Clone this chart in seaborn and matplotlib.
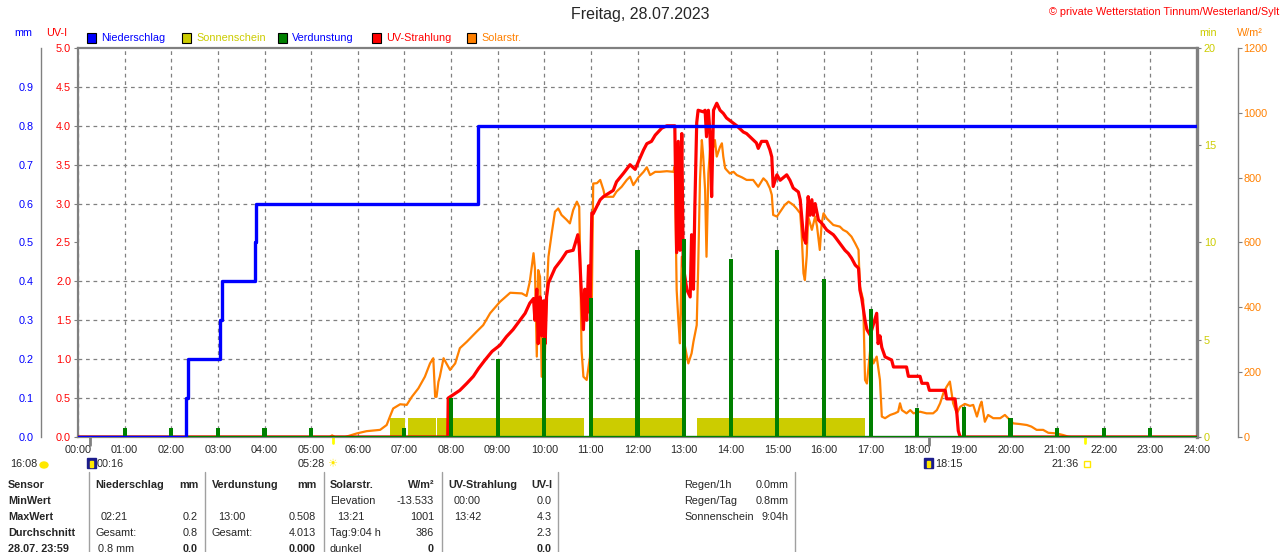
import numpy as np
import pandas as pd
import matplotlib
matplotlib.use("Agg")
import matplotlib.pyplot as plt
import matplotlib.patches as mpatches
from matplotlib.lines import Line2D
import seaborn as sns

# ---------------- data ----------------
hours = list(range(25))
hour_labels = [f"{h:02d}:00" for h in hours]

# Niederschlag, cumulative mm
rain_time = [0, 2.32, 2.35, 3.05, 3.08, 3.79, 3.82, 8.58, 24]
rain_mm = [0, 0.1, 0.2, 0.3, 0.4, 0.5, 0.6, 0.8, 0.8]

# Verdunstung per hour, mm
evap_hour = list(range(24))
evap_mm = [0, 0.024, 0.024, 0.024, 0.024, 0.024, 0, 0.024, 0.10, 0.20, 0.254, 0.357,
           0.481, 0.508, 0.458, 0.481, 0.407, 0.33, 0.075, 0.078, 0.05, 0.024, 0.024, 0.024]

# Sonnenschein intervals (hours), value in min
sun_start = [6.69, 7.08, 7.71, 11.04, 13.28]
sun_end = [7.01, 7.68, 10.85, 12.95, 16.88]
sun_min = [1, 1, 1, 1, 1]

# UV-Strahlung, UV-I
uv_time = [0, 7.93, 7.94, 8.19, 8.34, 8.48, 8.59, 8.73, 8.88, 9.05, 9.19, 9.33, 9.48, 9.59,
           9.69, 9.77, 9.80, 9.84, 9.87, 9.91, 9.945, 9.98, 10.02, 10.05, 10.09, 10.23,
           10.37, 10.48, 10.62, 10.72, 10.75, 10.77, 10.80, 10.84, 10.87, 10.91, 10.95,
           10.98, 11.02, 11.05, 11.20, 11.27, 11.48, 11.55, 11.70, 11.84, 11.95, 12.02,
           12.13, 12.20, 12.30, 12.38, 12.52, 12.63, 12.80, 12.84, 12.875, 12.91, 12.95,
           12.98, 13.06, 13.13, 13.16, 13.20, 13.23, 13.27, 13.30, 13.41, 13.45, 13.48,
           13.52, 13.555, 13.59, 13.63, 13.70, 13.77, 13.84, 13.91, 14.02, 14.13, 14.27,
           14.34, 14.48, 14.55, 14.59, 14.66, 14.77, 14.84, 14.88, 14.91, 14.99, 15.06,
           15.20, 15.27, 15.34, 15.45, 15.49, 15.56, 15.61, 15.66, 15.70, 15.74, 15.77,
           15.81, 15.88, 15.95, 16.06, 16.20, 16.24, 16.34, 16.45, 16.52, 16.59, 16.67,
           16.74, 16.77, 16.81, 16.88, 16.92, 16.99, 17.06, 17.13, 17.16, 17.20, 17.24,
           17.31, 17.45, 17.49, 17.77, 17.81, 18.06, 18.10, 18.22, 18.26, 18.60, 18.63,
           18.81, 18.85, 18.88, 18.92, 24]
uv_index = [0, 0, 0.5, 0.6, 0.69, 0.78, 0.88, 0.99, 1.1, 1.18, 1.29, 1.38, 1.5, 1.59,
            1.72, 1.78, 1.5, 1.9, 1.2, 1.8, 1.3, 1.75, 1.2, 1.8, 1.98, 2.17,
            2.28, 2.38, 2.4, 2.6, 2.45, 2.19, 1.8, 1.38, 1.9, 1.5, 2.2,
            1.6, 2.88, 2.87, 3.05, 3.09, 3.17, 3.28, 3.39, 3.5, 3.44, 3.54,
            3.69, 3.77, 3.8, 3.88, 3.97, 4.0, 4.0, 2.37, 3.8, 2.4, 3.9,
            2.2, 1.89, 1.8, 2.6, 1.9, 2.96, 4.04, 4.2, 4.18, 4.2, 3.86,
            4.2, 3.9, 3.09, 4.2, 4.29, 4.2, 4.16, 4.1, 4.05, 4.0, 3.92,
            3.9, 3.82, 3.78, 3.71, 3.8, 3.8, 3.69, 3.6, 3.22, 3.37, 3.3,
            3.37, 3.3, 3.2, 3.15, 3.05, 2.57, 2.49, 3.09, 2.85, 3.05, 2.85,
            3.0, 2.79, 2.75, 2.66, 2.6, 2.57, 2.49, 2.4, 2.36, 2.3, 2.21,
            2.17, 1.89, 1.78, 1.5, 1.38, 1.31, 1.45, 1.59, 1.2, 1.3, 1.15,
            1.03, 0.99, 0.9, 0.9, 0.78, 0.78, 0.69, 0.69, 0.6, 0.6, 0.49,
            0.49, 0.3, 0.08, 0, 0]

# Solarstrahlung, W/m2
solar_time = [0, 5.40, 5.45, 5.51, 5.73, 5.98, 6.19, 6.48, 6.62, 6.69, 6.76, 6.91, 7.05,
              7.16, 7.30, 7.44, 7.55, 7.62, 7.66, 7.69, 7.73, 7.76, 7.84, 7.98, 8.09, 8.19,
              8.34, 8.55, 8.69, 8.84, 9.05, 9.27, 9.52, 9.62, 9.69, 9.77, 9.80, 9.84, 9.87,
              9.91, 9.945, 9.98, 10.00, 10.05, 10.09, 10.16, 10.23, 10.30, 10.37, 10.48,
              10.55, 10.62, 10.70, 10.75, 10.77, 10.80, 10.84, 10.91, 10.95, 10.98, 11.02,
              11.05, 11.13, 11.20, 11.27, 11.30, 11.48, 11.55, 11.66, 11.77, 11.84, 11.91,
              12.02, 12.13, 12.20, 12.27, 12.38, 12.48, 12.63, 12.77, 12.80, 12.84, 12.88,
              12.91, 12.95, 12.98, 13.06, 13.09, 13.16, 13.20, 13.27, 13.30, 13.34, 13.38,
              13.41, 13.45, 13.48, 13.52, 13.555, 13.63, 13.66, 13.70, 13.77, 13.81, 13.84,
              13.88, 13.91, 13.98, 14.06, 14.13, 14.24, 14.34, 14.48, 14.59, 14.70, 14.77,
              14.84, 14.88, 14.91, 14.99, 15.06, 15.16, 15.24, 15.34, 15.41, 15.49, 15.52,
              15.56, 15.59, 15.63, 15.66, 15.74, 15.81, 15.85, 15.91, 15.95, 15.99, 16.06,
              16.20, 16.34, 16.41, 16.49, 16.59, 16.67, 16.74, 16.77, 16.84, 16.88, 16.92,
              16.99, 17.06, 17.13, 17.20, 17.24, 17.31, 17.42, 17.52, 17.59, 17.63, 17.67,
              17.77, 17.85, 17.92, 18.06, 18.20, 18.34, 18.42, 18.49, 18.56, 18.63, 18.70,
              18.77, 18.85, 18.92, 19.02, 19.13, 19.20, 19.28, 19.35, 19.38, 19.45, 19.52,
              19.63, 19.78, 19.88, 19.99, 20.06, 20.20, 20.35, 20.45, 20.56, 20.70, 20.81,
              20.99, 21.13, 21.24, 21.30, 24]
solar_wm2 = [0, 0, 5, 0, 0, 11, 18, 22, 37, 63, 88, 101, 99,
             124, 150, 186, 227, 243, 124, 124, 170, 186, 243, 207, 227, 274,
             294, 325, 345, 382, 417, 445, 443, 435, 479, 567, 520, 248, 515,
             494, 186, 309, 186, 433, 556, 628, 695, 705, 685, 670,
             659, 700, 726, 710, 556, 268, 186, 176, 217, 247, 412,
             782, 783, 793, 762, 741, 741, 757, 772, 793, 803, 777,
             801, 818, 832, 808, 818, 818, 820, 818, 835, 453, 351,
             289, 556, 309, 248, 227, 258, 294, 345, 515, 793, 916,
             865, 762, 556, 813, 885, 895, 916, 865, 895, 906, 865,
             829, 824, 813, 818, 808, 801, 793, 793, 772, 798, 788,
             767, 747, 685, 680, 695, 716, 726, 716, 705, 690, 628,
             505, 484, 560, 680, 639, 680, 650, 577, 659, 690, 674,
             654, 649, 639, 633, 618, 597, 577, 464, 423, 176, 165,
             268, 227, 248, 176, 63, 58, 68, 73, 78, 104, 83,
             73, 83, 73, 78, 73, 73, 83, 104, 135, 155, 171,
             104, 73, 93, 102, 96, 99, 63, 99, 109, 47, 68,
             58, 58, 68, 52, 42, 40, 37, 32, 22, 22, 13,
             11, 6, 1, 0, 0]

# sunrise / sunset and moon events (hours)
sun_events = [5.467, 21.6]
moon_events = [0.267, 18.25]

BLUE = "#0000FF"
OLIVE = "#CCCC00"
GREEN = "#008000"
RED = "#FF0000"
ORANGE = "#FF8000"
GRAY = "#808080"


def fx(x):
    return x / 1280


def fy(y):
    return 1 - y / 552


sns.set_style("white")
plt.rcParams["font.family"] = ["Liberation Sans", "DejaVu Sans"]
plt.rcParams["font.size"] = 7.8

fig = plt.figure(figsize=(12.8, 5.52), dpi=100)
ax = fig.add_axes([fx(78), fy(437), fx(1197) - fx(78), fy(48) - fy(437)])
ax_sol = ax.twinx()
ax_uv = ax.twinx()
ax_mm = ax.twinx()

# base axes: sunshine minutes + grid
ax.bar(sun_start, sun_min, width=np.array(sun_end) - np.array(sun_start),
       align="edge", color=OLIVE, linewidth=0)
ax.set_xlim(0, 24)
ax.set_ylim(0, 20)
ax.set_xticks(hours)
ax.set_xticklabels(hour_labels)
ax.yaxis.tick_right()
ax.set_yticks([0, 5, 10, 15, 20])
ax.set_yticks(np.arange(0, 20.1, 2), minor=True)
ax.grid(False)
ax.xaxis.grid(True, which="major", ls=(0, (3, 3)), color=GRAY, lw=0.9)
ax.yaxis.grid(True, which="minor", ls=(0, (3, 3)), color=GRAY, lw=0.9)
ax.set_axisbelow(True)
ax.tick_params(axis="x", length=0, pad=6, labelsize=7.8)
ax.tick_params(axis="y", which="major", length=3, color=GRAY, pad=2,
               labelcolor=OLIVE, labelsize=7.8, right=True, left=False)
ax.tick_params(axis="y", which="minor", length=0)
for side, lw in [("left", 1.6), ("top", 1.6), ("right", 2.4), ("bottom", 1.6)]:
    ax.spines[side].set_color(GRAY)
    ax.spines[side].set_linewidth(lw)

# solar radiation
sns.lineplot(x=solar_time, y=solar_wm2, ax=ax_sol, color=ORANGE, lw=1.6,
             estimator=None, sort=False, legend=False)
ax_sol.set_ylim(0, 1200)
ax_sol.set_yticks(range(0, 1201, 200))
ax_sol.set_ylabel("")
ax_sol.tick_params(axis="y", length=3, color=GRAY, pad=1, labelcolor=ORANGE, labelsize=7.8)
for s in ax_sol.spines.values():
    s.set_visible(False)
ax_sol.spines["right"].set_visible(True)
ax_sol.spines["right"].set_position(("outward", 29.5))
ax_sol.spines["right"].set_color(GRAY)
ax_sol.spines["right"].set_linewidth(1.0)

# UV index
sns.lineplot(x=uv_time, y=uv_index, ax=ax_uv, color=RED, lw=2.3,
             estimator=None, sort=False, legend=False)
ax_uv.set_ylim(0, 5)
ax_uv.yaxis.set_ticks_position("left")
ax_uv.yaxis.set_label_position("left")
ax_uv.set_yticks(np.arange(0, 5.01, 0.5))
ax_uv.set_yticklabels([f"{v:.1f}" for v in np.arange(0, 5.01, 0.5)])
ax_uv.set_ylabel("")
ax_uv.tick_params(axis="y", length=3, color=GRAY, pad=2, labelcolor=RED, labelsize=7.8)
for s in ax_uv.spines.values():
    s.set_visible(False)

# evaporation + rain (mm)
ax_mm.bar(evap_hour, evap_mm, width=0.09, color=GREEN, linewidth=0)
ax_mm.axhline(0, color=GREEN, lw=1.6)
sns.lineplot(x=rain_time, y=rain_mm, ax=ax_mm, color=BLUE, lw=2.4,
             estimator=None, sort=False, legend=False, drawstyle="steps-post")
ax_mm.set_ylim(0, 1.0)
ax_mm.set_xlim(0, 24)
ax_mm.yaxis.set_ticks_position("left")
ax_mm.yaxis.set_label_position("left")
ax_mm.set_yticks(np.arange(0, 0.91, 0.1))
ax_mm.set_yticklabels([f"{v:.1f}" for v in np.arange(0, 0.91, 0.1)])
ax_mm.set_ylabel("")
ax_mm.tick_params(axis="y", length=0, pad=5, labelcolor=BLUE, labelsize=7.8)
for s in ax_mm.spines.values():
    s.set_visible(False)
ax_mm.spines["left"].set_visible(True)
ax_mm.spines["left"].set_position(("outward", 26.6))
ax_mm.spines["left"].set_color(GRAY)
ax_mm.spines["left"].set_linewidth(1.0)

# sunrise/sunset and moon markers under the axis
for t in sun_events:
    ax.axvline(t, ymin=-0.015, ymax=0.0, color="#FFFF00", lw=2, clip_on=False)
for t in moon_events:
    ax.axvline(t, ymin=-0.02, ymax=0.0, color=GRAY, lw=2, clip_on=False)

# ---------------- texts ----------------
fig.text(0.5, fy(15), "Freitag, 28.07.2023", ha="center", va="center", fontsize=11.5)
fig.text(fx(1279), fy(12), "\u00a9 private Wetterstation Tinnum/Westerland/Sylt",
         ha="right", va="center", color=RED, fontsize=7.8)
fig.text(fx(14), fy(33), "mm", color=BLUE, va="center")
fig.text(fx(46), fy(33), "UV-I", color=RED, va="center")
fig.text(fx(1199), fy(33), "min", color=OLIVE, va="center")
fig.text(fx(1237), fy(33), "W/m\u00b2", color=ORANGE, va="center")

legend_items = [("Niederschlag", BLUE, BLUE, 87), ("Sonnenschein", OLIVE, OLIVE, 182),
                ("Verdunstung", GREEN, BLUE, 278), ("UV-Strahlung", RED, RED, 372),
                ("Solarstr.", ORANGE, ORANGE, 467)]
for name, fc, tc, x0 in legend_items:
    fig.patches.append(mpatches.Rectangle((fx(x0), fy(43)), fx(9), fy(33) - fy(43),
                                          transform=fig.transFigure, facecolor=fc,
                                          edgecolor="black", lw=0.8))
    fig.text(fx(x0 + 14), fy(38), name, color=tc, va="center")

# time annotations below the x axis
fig.text(fx(10), fy(464), "16:08", va="center")
fig.patches.append(mpatches.Ellipse((fx(44), fy(465)), fx(8), fy(461) - fy(467),
                                    transform=fig.transFigure, color="#FFE800"))
for x0 in [87, 924]:
    fig.patches.append(mpatches.Rectangle((fx(x0), fy(468)), fx(9), fy(458) - fy(468),
                                          transform=fig.transFigure, color="#1C1C8C"))
    fig.patches.append(mpatches.Rectangle((fx(x0 + 3), fy(467)), fx(3), fy(461) - fy(467),
                                          transform=fig.transFigure, color="#FFE800"))
fig.text(fx(97), fy(464), "00:16", va="center")
fig.text(fx(325), fy(464), "05:28", va="center", ha="right")
fig.text(fx(327), fy(464), "\u2600", va="center", color="#FFE800", fontsize=8)
fig.text(fx(935), fy(464), "18:15", va="center")
fig.text(fx(1079), fy(464), "21:36", va="center", ha="right")
fig.patches.append(mpatches.Rectangle((fx(1084), fy(467)), fx(6), fy(461) - fy(467),
                                      transform=fig.transFigure, facecolor="none",
                                      edgecolor="#FFE800", lw=1))

# ---------------- summary table ----------------
for xs in [89, 205, 324, 442, 558, 795]:
    fig.add_artist(Line2D([fx(xs), fx(xs)], [fy(472), fy(552)], color="#A0A0A0", lw=1))

rows_y = [485, 501, 517, 533, 549]
row_names = ["Sensor", "MinWert", "MaxWert", "Durchschnitt", "28.07. 23:59"]
for y, name in zip(rows_y, row_names):
    fig.text(fx(8), fy(y), name, va="center", fontweight="bold")

cells = [
    (95, 0, "Niederschlag", "left", True), (198, 0, "mm", "right", True),
    (101, 2, "02:21", "left", False), (198, 2, "0.2", "right", False),
    (95, 3, "Gesamt:", "left", False), (198, 3, "0.8", "right", False),
    (98, 4, "0.8 mm", "left", False), (198, 4, "0.0", "right", True),
    (212, 0, "Verdunstung", "left", True), (316, 0, "mm", "right", True),
    (218, 2, "13:00", "left", False), (316, 2, "0.508", "right", False),
    (212, 3, "Gesamt:", "left", False), (316, 3, "4.013", "right", False),
    (316, 4, "0.000", "right", True),
    (330, 0, "Solarstr.", "left", True), (434, 0, "W/m\u00b2", "right", True),
    (330, 1, "Elevation", "left", False), (434, 1, "-13.533", "right", False),
    (337, 2, "13:21", "left", False), (434, 2, "1001", "right", False),
    (330, 3, "Tag:9:04 h", "left", False), (434, 3, "386", "right", False),
    (330, 4, "dunkel", "left", False), (434, 4, "0", "right", True),
    (448, 0, "UV-Strahlung", "left", True), (552, 0, "UV-I", "right", True),
    (454, 1, "00:00", "left", False), (552, 1, "0.0", "right", False),
    (454, 2, "13:42", "left", False), (552, 2, "4.3", "right", False),
    (552, 3, "2.3", "right", False), (552, 4, "0.0", "right", True),
    (684, 0, "Regen/1h", "left", False), (789, 0, "0.0mm", "right", False),
    (684, 1, "Regen/Tag", "left", False), (789, 1, "0.8mm", "right", False),
    (684, 2, "Sonnenschein", "left", False), (789, 2, "9:04h", "right", False),
]
for x, r, txt, ha, bold in cells:
    fig.text(fx(x), fy(rows_y[r]), txt, ha=ha, va="center",
             fontweight="bold" if bold else "normal")

fig.savefig("out.png", dpi=100)
